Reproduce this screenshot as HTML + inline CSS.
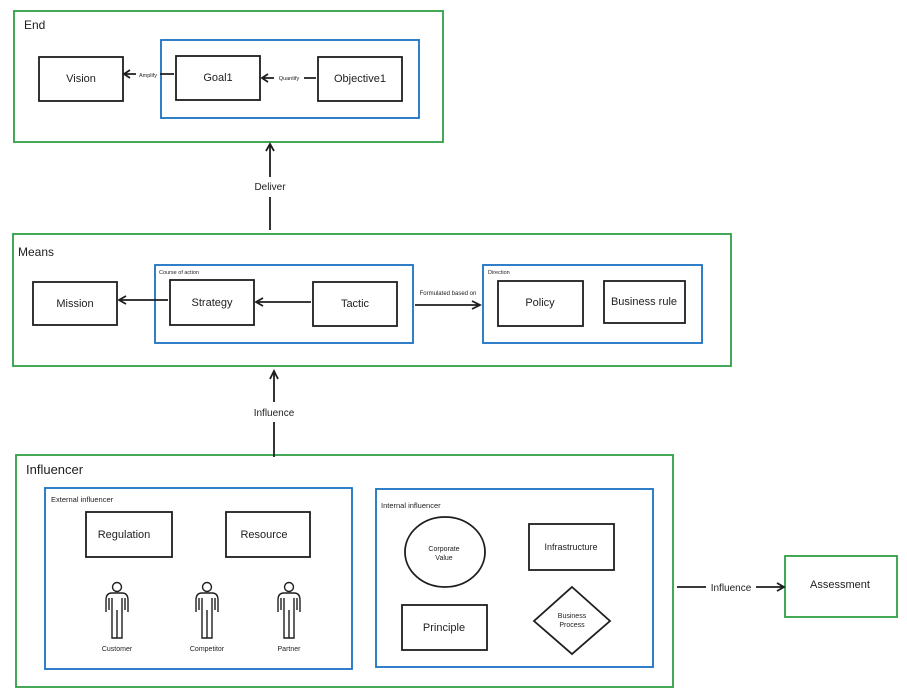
<!DOCTYPE html>
<html><head><meta charset="utf-8"><style>
html,body{margin:0;padding:0;background:#fff;}
svg{display:block;}
text{font-family:"Liberation Sans",sans-serif;fill:#1e1e1e;}
</style></head><body>
<svg width="907" height="695" viewBox="0 0 907 695" xmlns="http://www.w3.org/2000/svg">
<defs>
<g id="person" fill="none" stroke="#1e1e1e" stroke-width="1.4">
<circle cx="0" cy="-51" r="4.5"/>
<path d="M-11,-26 V-38 Q-11,-45 -5,-45 H5 Q11,-45 11,-38 V-26"/>
<path d="M-8,-28 V-40 M8,-28 V-40"/>
<path d="M-5,-40 V0 H5 V-40 M0,-28 V0"/>
</g>
</defs>
<g fill="none" stroke-width="1.8">
<rect x="14" y="11" width="429" height="131" stroke="#2f9e44"/>
<rect x="161" y="40" width="258" height="78" stroke="#1971c2"/>
<g stroke="#1e1e1e"><rect x="39" y="57" width="84" height="44"/><rect x="176" y="56" width="84" height="44"/><rect x="318" y="57" width="84" height="44"/></g>
<rect x="13" y="234" width="718" height="132" stroke="#2f9e44"/>
<rect x="155" y="265" width="258" height="78" stroke="#1971c2"/>
<rect x="483" y="265" width="219" height="78" stroke="#1971c2"/>
<g stroke="#1e1e1e"><rect x="33" y="282" width="84" height="43"/><rect x="170" y="280" width="84" height="45"/><rect x="313" y="282" width="84" height="44"/><rect x="498" y="281" width="85" height="45"/><rect x="604" y="281" width="81" height="42"/></g>
<rect x="16" y="455" width="657" height="232" stroke="#2f9e44"/>
<rect x="45" y="488" width="307" height="181" stroke="#1971c2"/>
<rect x="376" y="489" width="277" height="178" stroke="#1971c2"/>
<g stroke="#1e1e1e"><rect x="86" y="512" width="86" height="45"/><rect x="226" y="512" width="84" height="45"/><rect x="529" y="524" width="85" height="46"/><rect x="402" y="605" width="85" height="45"/>
<ellipse cx="445" cy="552" rx="40" ry="35"/>
<path d="M572,587 L610,621 L572,654 L534,621 Z"/></g>
<rect x="785" y="556" width="112" height="61" stroke="#2f9e44"/>
<g stroke="#1e1e1e" stroke-width="1.8">
<path d="M174,74 H160 M136,74 H124 M130,70 L124,74 L130,78"/>
<path d="M316,78 H304 M274,78 H262 M268,74 L262,78 L268,82"/>
<path d="M270,230 V197 M270,177 V145 M266,151 L270,144 L274,151"/>
<path d="M168,300 H119 M126,296 L119,300 L126,304"/>
<path d="M311,302 H256 M263,298 L256,302 L263,306"/>
<path d="M415,305 H479 M472,301 L480,305 L472,309"/>
<path d="M274,457 V422 M274,402 V372 M270,379 L274,371 L278,379"/>
<path d="M677,587 H706 M756,587 H784 M777,583 L784,587 L777,591"/>
</g>
</g>
<use href="#person" x="117" y="638"/>
<use href="#person" x="207" y="638"/>
<use href="#person" x="289" y="638"/>
<text x="24" y="29" font-size="12">End</text>
<text x="18" y="256" font-size="12">Means</text>
<text x="26" y="474" font-size="13">Influencer</text>
<g font-size="11" text-anchor="middle">
<text x="81" y="82">Vision</text><text x="218" y="81">Goal1</text><text x="360" y="82">Objective1</text>
<text x="75" y="307">Mission</text><text x="212" y="306">Strategy</text><text x="355" y="307">Tactic</text>
<text x="540" y="306">Policy</text><text x="644" y="305">Business rule</text>
<text x="124" y="538">Regulation</text><text x="264" y="538">Resource</text>
<text x="571" y="550" font-size="9">Infrastructure</text><text x="444" y="631">Principle</text>
<text x="840" y="588">Assessment</text>
<text x="270" y="190" font-size="10">Deliver</text>
<text x="274" y="416" font-size="10">Influence</text>
<text x="731" y="591" font-size="10">Influence</text>
</g>
<g font-size="7" text-anchor="middle">
<text x="117" y="651">Customer</text><text x="207" y="651">Competitor</text><text x="289" y="651">Partner</text>
<text x="444" y="551">Corporate</text><text x="444" y="560">Value</text>
<text x="572" y="618">Business</text><text x="572" y="627">Process</text>
<text x="148" y="77" font-size="5.5">Amplify</text><text x="289" y="80" font-size="5.5">Quantify</text>
<text x="448" y="295" font-size="6">Formulated based on</text>
</g>
<g font-size="7.5"><text x="51" y="502">External influencer</text><text x="381" y="508">Internal influencer</text></g>
<g font-size="5.5"><text x="159" y="274">Course of action</text><text x="488" y="274">Direction</text></g>
</svg>
</body></html>
